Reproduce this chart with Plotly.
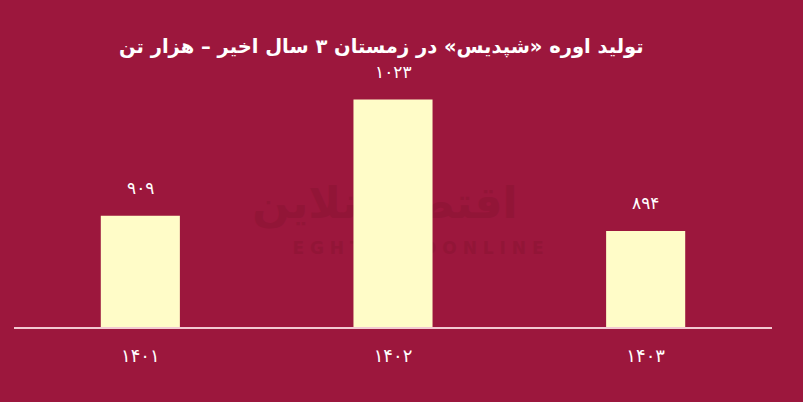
import plotly.graph_objects as go

years = ["۱۴۰۱", "۱۴۰۲", "۱۴۰۳"]
values = [909, 1023, 894]
value_labels = ["۹۰۹", "۱۰۲۳", "۸۹۴"]
title_text = "تولید اوره «شپدیس» در زمستان ۳ سال اخیر – هزار تن"

BG = "#9C173D"
BAR = "#FFFCC8"
WM = "#921537"

fig = go.Figure()

# watermark on base axes (drawn beneath bars)
fig.add_trace(go.Scatter(
    x=[0.968], y=[918], mode="text",
    text=["<b>اقتصادآنلاین</b>"],
    textfont=dict(family="DejaVu Sans", size=44, color=WM),
    hoverinfo="skip", showlegend=False, xaxis="x", yaxis="y",
))
fig.add_trace(go.Scatter(
    x=[1.099], y=[876], mode="text",
    text=["<b>E G H T E S A D O N L I N E</b>"],
    textfont=dict(family="DejaVu Sans", size=17, color=WM),
    hoverinfo="skip", showlegend=False, xaxis="x", yaxis="y",
))

fig.add_trace(go.Bar(
    x=years, y=values, marker=dict(color=BAR, line=dict(width=0)),
    width=0.313, hoverinfo="skip", showlegend=False,
    xaxis="x2", yaxis="y2",
))

for yr, v, lab in zip(years, values, value_labels):
    fig.add_annotation(
        x=yr, y=v, xref="x2", yref="y2", text=lab, showarrow=False,
        yanchor="bottom", yshift=16,
        font=dict(family="DejaVu Sans", size=17, color="white"),
    )

fig.add_annotation(
    x=0.485, y=1.0, xref="paper", yref="paper", yanchor="bottom", yshift=12,
    text="<b>" + title_text + "</b>",
    showarrow=False, font=dict(family="DejaVu Sans", size=19.5, color="white"),
)

fig.update_layout(
    width=803, height=402,
    paper_bgcolor=BG, plot_bgcolor=BG,
    margin=dict(l=14, r=31, t=72, b=75),
    xaxis=dict(range=[-0.5, 2.5], visible=False, fixedrange=True),
    yaxis=dict(range=[800, 1050], visible=False, fixedrange=True),
    xaxis2=dict(
        type="category", range=[-0.5, 2.5], overlaying="x",
        showline=True, linecolor="#F2C9D2", linewidth=2,
        showgrid=False, zeroline=False, ticks="",
        ticklabelstandoff=11,
        tickfont=dict(family="DejaVu Sans", size=18, color="white"),
    ),
    yaxis2=dict(range=[800, 1050], overlaying="y", visible=False,
                showgrid=False, zeroline=False),
)

fig.write_html("out.html", config={"displayModeBar": False},
               post_script="document.body.style.margin='0';")
